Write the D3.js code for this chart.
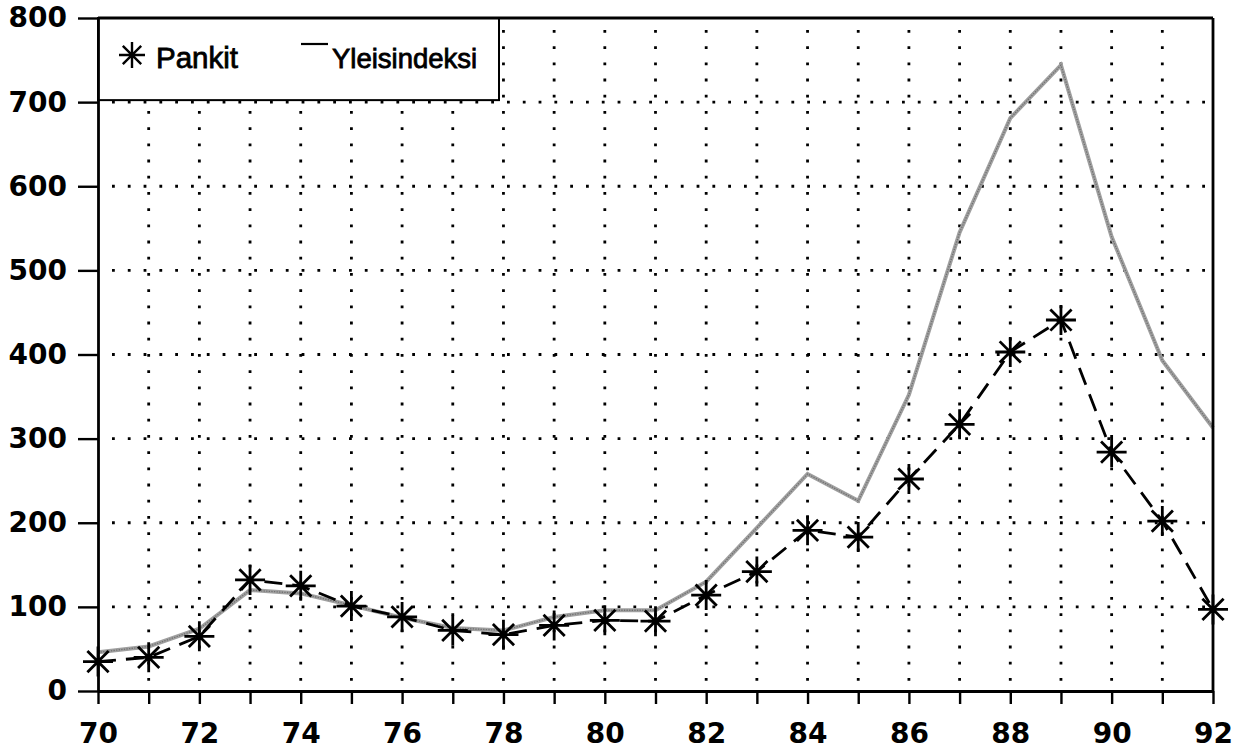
<!DOCTYPE html>
<html>
<head>
<meta charset="utf-8">
<script src="https://cdn.jsdelivr.net/npm/d3@7"></script>
<style>
  html, body { margin: 0; padding: 0; background: #fff; }
  svg { display: block; }
</style>
</head>
<body>
<svg id="chart" width="1242" height="751"></svg>
<script>
// ---- data ----
const years = [70,71,72,73,74,75,76,77,78,79,80,81,82,83,84,85,86,87,88,89,90,91,92];
const pankit = [35,40,65,132,125,101,88,72,67,78,84,83,114,142,191,183,252,317,403,441,284,202,97];
const yleisindeksi = [46,53,74,120,116,102,87,75,72,88,96,96,130,194,258,226,352,545,681,744,540,393,313];
const yTickValues = [0,100,200,300,400,500,600,700,800];
const xLabelYears = [70,72,74,76,78,80,82,84,86,88,90,92];
const seriesNames = ["Pankit", "Yleisindeksi"];

// ---- layout ----
const W = 1242, H = 751;
const margin = {left: 98, right: 29, top: 18, bottom: 60};
const svg = d3.select("#chart");

const x = d3.scaleLinear().domain([70, 92]).range([margin.left, W - margin.right]);
const y = d3.scaleLinear().domain([0, 800]).range([H - margin.bottom, margin.top]);

const labelFont = "'DejaVu Sans', sans-serif";

// ---- dotted grid ----
const grid = svg.append("g");
grid.selectAll("line.h")
  .data(yTickValues.filter(v => v > 0 && v < 800))
  .enter().append("line")
  .attr("x1", x(70)).attr("x2", x(92))
  .attr("y1", d => y(d)).attr("y2", d => y(d))
  .attr("stroke", "#000").attr("stroke-width", 2.8)
  .attr("stroke-dasharray", "2.8,13")
  .attr("stroke-dashoffset", -14);
grid.selectAll("line.v")
  .data(years.filter(v => v > 70 && v < 92))
  .enter().append("line")
  .attr("x1", d => x(d)).attr("x2", d => x(d))
  .attr("y1", y(800)).attr("y2", y(0))
  .attr("stroke", "#000").attr("stroke-width", 2.8)
  .attr("stroke-dasharray", "2.8,13.4")
  .attr("stroke-dashoffset", -12);

// ---- series ----
const ptsY = years.map((d, i) => [d, yleisindeksi[i]]);
const ptsP = years.map((d, i) => [d, pankit[i]]);
const line = d3.line().x(d => x(d[0])).y(d => y(d[1]));

svg.append("path").datum(ptsY)
  .attr("d", line).attr("fill", "none")
  .attr("stroke", "#a0a0a0").attr("stroke-width", 4)
  .attr("stroke-linejoin", "miter");
svg.append("path").datum(ptsY)
  .attr("d", line).attr("fill", "none")
  .attr("stroke", "#707070").attr("stroke-width", 1.3)
  .attr("stroke-dasharray", "1.3,1.3");

svg.append("path").datum(ptsP)
  .attr("d", line).attr("fill", "none")
  .attr("stroke", "#000").attr("stroke-width", 2.8)
  .attr("stroke-dasharray", "18,10");

function starPath(r) {
  const a = r * Math.SQRT1_2;
  return `M${-r},0L${r},0M0,${-r}L0,${r}M${-a},${-a}L${a},${a}M${-a},${a}L${a},${-a}`;
}
svg.selectAll("path.star").data(ptsP).enter().append("path")
  .attr("class", "star")
  .attr("transform", d => `translate(${x(d[0])},${y(d[1])})`)
  .attr("d", starPath(15))
  .attr("fill", "none").attr("stroke", "#000").attr("stroke-width", 2.8);

// ---- legend ----
const leg = svg.append("g");
leg.append("rect")
  .attr("x", x(70)).attr("y", y(800))
  .attr("width", 401).attr("height", y(700) - y(800) - 2)
  .attr("fill", "#fff").attr("stroke", "#000").attr("stroke-width", 2);
leg.append("path")
  .attr("transform", "translate(132,55)")
  .attr("d", starPath(13))
  .attr("fill", "none").attr("stroke", "#000").attr("stroke-width", 2.4);
leg.append("text")
  .attr("x", 156).attr("y", 68)
  .attr("font-family", "'Liberation Sans', Arial, sans-serif")
  .attr("font-size", 29.5).attr("fill", "#000")
  .attr("stroke", "#000").attr("stroke-width", 0.8)
  .text(seriesNames[0]);
leg.append("line")
  .attr("x1", 301).attr("x2", 328).attr("y1", 44).attr("y2", 44)
  .attr("stroke", "#000").attr("stroke-width", 2.2);
leg.append("text")
  .attr("x", 332).attr("y", 68)
  .attr("font-family", "'Liberation Sans', Arial, sans-serif")
  .attr("font-size", 27.5).attr("fill", "#000")
  .attr("stroke", "#000").attr("stroke-width", 0.8)
  .text(seriesNames[1]);

// ---- axes ----
const yAxis = d3.axisLeft(y).tickValues(yTickValues).tickSize(20).tickSizeOuter(0).tickPadding(11);
const gy = svg.append("g").attr("transform", `translate(${x(70)},0)`).call(yAxis);
gy.selectAll("line").attr("stroke-width", 2.4);
gy.select(".domain").attr("stroke-width", 2.8);
gy.selectAll("text")
  .attr("font-family", labelFont).attr("font-weight", "bold")
  .attr("font-size", 28).attr("fill", "#000");

const xAxis = d3.axisBottom(x).tickValues(years).tickSize(13).tickSizeOuter(0).tickPadding(19)
  .tickFormat(d => xLabelYears.includes(d) ? String(d) : "");
const gx = svg.append("g").attr("transform", `translate(0,${y(0)})`).call(xAxis);
gx.selectAll("line").attr("stroke-width", 2.4);
gx.select(".domain").attr("stroke-width", 2.8);
gx.selectAll("text")
  .attr("font-family", labelFont).attr("font-weight", "bold")
  .attr("font-size", 28).attr("fill", "#000");

// frame: top and right edges
svg.append("line")
  .attr("x1", x(70)).attr("x2", x(92)).attr("y1", y(800)).attr("y2", y(800))
  .attr("stroke", "#000").attr("stroke-width", 2.8);
svg.append("line")
  .attr("x1", x(92)).attr("x2", x(92)).attr("y1", y(800)).attr("y2", y(0))
  .attr("stroke", "#000").attr("stroke-width", 2.8);
</script>
</body>
</html>
